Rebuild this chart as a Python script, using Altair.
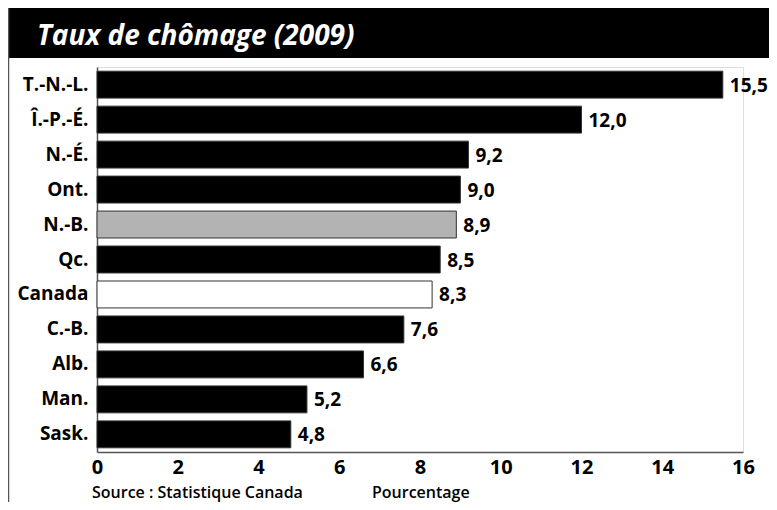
import altair as alt
import pandas as pd

provinces = ["T.-N.-L.", "Î.-P.-É.", "N.-É.", "Ont.", "N.-B.", "Qc.", "Canada",
             "C.-B.", "Alb.", "Man.", "Sask."]
rates = [15.5, 12.0, 9.2, 9.0, 8.9, 8.5, 8.3, 7.6, 6.6, 5.2, 4.8]
x_ticks = [0, 2, 4, 6, 8, 10, 12, 14, 16]

title_text = "Taux de chômage (2009)"
source_text = "Source : Statistique Canada"
unit_text = "Pourcentage"

bar_colors = ["#000000", "#000000", "#000000", "#000000", "#b3b3b3", "#000000",
              "#ffffff", "#000000", "#000000", "#000000", "#000000"]

df = pd.DataFrame({
    "prov": provinces,
    "rate": rates,
    "label": [f"{v:.1f}".replace(".", ",") for v in rates],
})

FONT = "Open Sans"
W, H = 646, 385
PAD = {"left": 89, "top": 59, "right": 26, "bottom": 50}

base = alt.Chart(df)

y_enc = alt.Y("prov:N", sort=provinces,
              scale=alt.Scale(paddingInner=0.23, paddingOuter=0.12),
              axis=alt.Axis(title=None, ticks=False, labelFont=FONT, labelFontSize=19,
                            labelFontWeight="bold", labelColor="#000", labelPadding=9,
                            domainColor="#555", domainWidth=1.5))
x_enc = alt.X("rate:Q", scale=alt.Scale(domain=[0, 16], nice=False),
              axis=alt.Axis(title=None, values=x_ticks, ticks=False, grid=False,
                            labelFont=FONT, labelFontSize=20, labelFontWeight="bold",
                            labelColor="#000", labelPadding=5, domainColor="#555",
                            domainWidth=1.5, labelFlush=False))

bars = base.mark_bar(stroke="#333", strokeWidth=1).encode(
    x=x_enc, y=y_enc,
    color=alt.Color("prov:N", scale=alt.Scale(domain=provinces, range=bar_colors), legend=None),
)

labels = base.mark_text(align="left", baseline="middle", dx=7, dy=1, font=FONT,
                        fontSize=19, fontWeight="bold", color="#000").encode(
    x="rate:Q", y=alt.Y("prov:N", sort=provinces), text="label:N")

header = alt.Chart(pd.DataFrame({"k": [0]})).mark_rect(color="#000").encode(
    x=alt.value(-89), x2=alt.value(W + 40), y=alt.value(-59), y2=alt.value(-9))

border = alt.Chart(pd.DataFrame({"k": [0]})).mark_rule(color="#555", strokeWidth=1.5).encode(
    x=alt.value(-88.5), y=alt.value(-59), y2=alt.value(H + 60))

title = alt.Chart(pd.DataFrame({"t": [title_text]})).mark_text(
    align="left", baseline="alphabetic", font=FONT, fontSize=28, fontWeight="bold",
    fontStyle="italic", color="#fff").encode(
    x=alt.value(-60), y=alt.value(-22), text="t:N")

source = alt.Chart(pd.DataFrame({"t": [source_text]})).mark_text(
    align="left", baseline="alphabetic", font=FONT, fontSize=16, fontWeight=600,
    color="#000").encode(x=alt.value(-5), y=alt.value(431), text="t:N")

unit = alt.Chart(pd.DataFrame({"t": [unit_text]})).mark_text(
    align="left", baseline="alphabetic", font=FONT, fontSize=16, fontWeight=600,
    color="#000").encode(x=alt.value(275), y=alt.value(431), text="t:N")

chart = alt.layer(header, border, title, bars, labels, source, unit).properties(
    width=W, height=H,
    autosize=alt.AutoSizeParams(type="none"),
    padding=PAD,
).configure_view(stroke=None).configure(background="#ffffff")

chart.save("out.html", embed_options={"renderer": "svg", "actions": False})
